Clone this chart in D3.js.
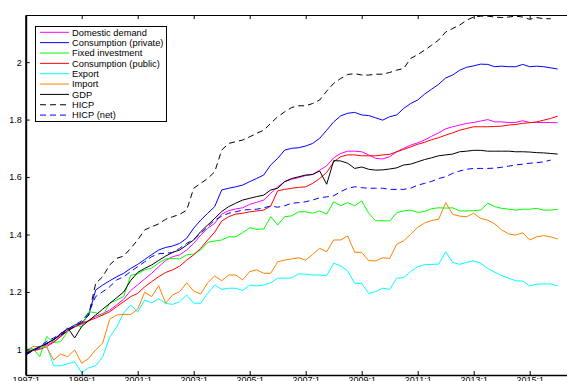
<!DOCTYPE html>
<html>
<head>
<meta charset="utf-8">
<script src="https://cdn.jsdelivr.net/npm/d3@7"></script>
<style>
  html, body { margin: 0; padding: 0; background: #fff; }
  svg { display: block; font-family: "Liberation Sans", Arial, Helvetica, sans-serif; }
</style>
</head>
<body>
<svg id="chart" width="567" height="381"></svg>
<script>
// Quarterly indices, 1997:1 = 1, first quarter of each series is 1997:1
const startYear = 1997;

const domesticDemand = [0.99,0.997,1.005,1.015,1.027,1.045,1.065,1.078,1.088,1.10,1.115,1.125,1.137,1.155,1.175,1.205,1.225,1.245,1.265,1.288,1.31,1.323,1.329,1.346,1.369,1.398,1.422,1.439,1.471,1.483,1.489,1.493,1.505,1.512,1.52,1.543,1.566,1.584,1.592,1.598,1.605,1.609,1.624,1.639,1.667,1.682,1.69,1.69,1.688,1.677,1.665,1.663,1.671,1.688,1.70,1.711,1.719,1.729,1.742,1.754,1.768,1.775,1.781,1.787,1.79,1.795,1.80,1.792,1.792,1.79,1.79,1.796,1.79,1.79,1.79,1.79,1.789];
const consumptionPrivate = [0.981,0.996,1.004,1.022,1.033,1.056,1.07,1.085,1.091,1.12,1.207,1.224,1.239,1.253,1.265,1.282,1.296,1.313,1.33,1.346,1.355,1.36,1.369,1.387,1.422,1.45,1.474,1.497,1.555,1.561,1.566,1.572,1.584,1.595,1.607,1.642,1.665,1.694,1.70,1.702,1.708,1.717,1.735,1.763,1.792,1.813,1.822,1.825,1.816,1.814,1.806,1.798,1.81,1.816,1.839,1.856,1.868,1.889,1.906,1.923,1.945,1.955,1.972,1.982,1.987,1.993,1.992,1.984,1.986,1.984,1.984,1.992,1.984,1.986,1.984,1.98,1.976];
const fixedInvestment = [1.0,1.004,0.975,1.045,1.024,1.027,1.062,1.085,1.079,1.131,1.128,1.117,1.161,1.172,1.184,1.258,1.263,1.277,1.283,1.301,1.315,1.317,1.315,1.329,1.332,1.346,1.373,1.377,1.381,1.392,1.392,1.406,1.424,1.418,1.419,1.462,1.433,1.462,1.465,1.479,1.479,1.474,1.482,1.471,1.514,1.50,1.511,1.50,1.517,1.474,1.448,1.448,1.447,1.476,1.482,1.485,1.477,1.48,1.49,1.493,1.492,1.493,1.482,1.482,1.483,1.485,1.509,1.497,1.491,1.488,1.485,1.488,1.488,1.491,1.485,1.485,1.488];
const consumptionPublic = [0.989,0.996,1.0,1.01,1.025,1.045,1.065,1.079,1.091,1.10,1.109,1.12,1.131,1.149,1.166,1.184,1.195,1.218,1.236,1.253,1.268,1.277,1.29,1.311,1.329,1.352,1.381,1.408,1.447,1.462,1.471,1.474,1.479,1.482,1.485,1.499,1.552,1.557,1.561,1.564,1.566,1.578,1.595,1.616,1.653,1.671,1.677,1.677,1.674,1.674,1.674,1.677,1.679,1.688,1.696,1.705,1.714,1.721,1.73,1.737,1.746,1.754,1.763,1.769,1.775,1.775,1.775,1.776,1.777,1.781,1.783,1.787,1.789,1.792,1.798,1.804,1.812];
const exportIdx = [0.995,1.0,1.005,1.012,0.943,0.943,0.95,0.957,0.918,0.936,0.943,0.974,1.043,1.078,1.127,1.155,1.13,1.172,1.162,1.176,1.16,1.157,1.166,1.19,1.161,1.161,1.195,1.224,1.209,1.213,1.213,1.205,1.224,1.221,1.224,1.232,1.248,1.248,1.249,1.263,1.262,1.259,1.259,1.257,1.30,1.291,1.273,1.23,1.23,1.195,1.201,1.213,1.209,1.248,1.25,1.271,1.288,1.295,1.296,1.297,1.34,1.303,1.296,1.303,1.308,1.30,1.282,1.269,1.257,1.248,1.239,1.238,1.221,1.227,1.228,1.228,1.221];
const importIdx = [0.992,1.01,1.01,1.008,0.963,0.984,0.975,0.998,0.952,0.969,0.998,1.022,1.105,1.12,1.122,1.122,1.14,1.199,1.184,1.222,1.161,1.19,1.201,1.232,1.203,1.193,1.232,1.256,1.239,1.259,1.259,1.242,1.271,1.277,1.265,1.265,1.305,1.311,1.315,1.319,1.311,1.331,1.352,1.34,1.381,1.381,1.395,1.338,1.338,1.309,1.308,1.319,1.317,1.366,1.378,1.401,1.425,1.44,1.449,1.453,1.511,1.47,1.464,1.462,1.474,1.456,1.45,1.437,1.416,1.402,1.398,1.406,1.381,1.392,1.396,1.392,1.384];
const gdp = [0.985,0.998,1.01,1.02,1.035,1.05,1.075,1.04,1.08,1.10,1.12,1.14,1.16,1.18,1.20,1.24,1.268,1.282,1.294,1.31,1.325,1.338,1.346,1.363,1.381,1.41,1.433,1.456,1.48,1.497,1.509,1.52,1.526,1.532,1.537,1.555,1.561,1.584,1.595,1.601,1.607,1.609,1.621,1.575,1.657,1.656,1.648,1.63,1.635,1.627,1.624,1.625,1.628,1.632,1.642,1.645,1.653,1.661,1.667,1.674,1.677,1.68,1.688,1.69,1.693,1.693,1.69,1.69,1.69,1.69,1.688,1.688,1.687,1.685,1.684,1.682,1.68];
const hicp = [0.985,0.995,1.008,1.02,1.035,1.05,1.065,1.08,1.095,1.12,1.23,1.253,1.294,1.317,1.325,1.352,1.381,1.416,1.427,1.437,1.453,1.462,1.47,1.485,1.561,1.578,1.595,1.618,1.694,1.717,1.723,1.729,1.74,1.752,1.763,1.787,1.81,1.827,1.842,1.848,1.848,1.856,1.868,1.899,1.926,1.943,1.957,1.96,1.955,1.955,1.958,1.958,1.964,1.972,1.978,2.013,2.026,2.042,2.059,2.077,2.105,2.117,2.129,2.146,2.157,2.16,2.16,2.157,2.155,2.157,2.16,2.157,2.149,2.155,2.151,2.151];
const hicpNet = [0.98,0.995,1.01,1.028,1.04,1.055,1.07,1.085,1.10,1.128,1.184,1.201,1.218,1.242,1.253,1.271,1.288,1.305,1.323,1.333,1.335,1.337,1.352,1.369,1.383,1.404,1.427,1.45,1.464,1.474,1.479,1.485,1.487,1.488,1.493,1.499,1.495,1.50,1.509,1.511,1.514,1.52,1.528,1.531,1.535,1.549,1.561,1.566,1.563,1.561,1.561,1.561,1.557,1.557,1.557,1.561,1.572,1.578,1.585,1.595,1.601,1.613,1.621,1.627,1.63,1.63,1.63,1.631,1.634,1.638,1.642,1.645,1.648,1.65,1.653,1.659];

const seriesNames = ["Domestic demand","Consumption (private)","Fixed investment","Consumption (public)","Export","Import","GDP","HICP","HICP (net)"];
const seriesColors = ["#ff00ff","#0000ff","#00ff00","#ff0000","#00ffff","#ff8000","#000000","#000000","#0000ff"];
const seriesDashed = [false,false,false,false,false,false,false,true,true];
const seriesValues = [domesticDemand,consumptionPrivate,fixedInvestment,consumptionPublic,exportIdx,importIdx,gdp,hicp,hicpNet];

const xTickLabels = ["1997:1","1999:1","2001:1","2003:1","2005:1","2007:1","2009:1","2011:1","2013:1","2015:1"];
const yTickValues = [1,1.2,1.4,1.6,1.8,2];
const yTickLabels = ["1","1.2","1.4","1.6","1.8","2"];

const svg = d3.select("#chart");
const plotLeft = 25.7, plotTop = 15, plotBottom = 375, plotRight = 578.7;

const x = d3.scaleLinear().domain([startYear, 2016.75]).range([plotLeft, plotRight]);
const y = d3.scaleLinear().domain([0.911, 2.164]).range([plotBottom, plotTop]);

svg.append("defs").append("clipPath").attr("id", "plotclip")
  .append("rect").attr("x", plotLeft).attr("y", plotTop - 1)
  .attr("width", plotRight - plotLeft).attr("height", plotBottom - plotTop + 1);

const line = d3.line()
  .x((d, i) => x(startYear + i / 4))
  .y(d => y(d));

const plot = svg.append("g").attr("clip-path", "url(#plotclip)");
seriesValues.forEach((vals, k) => {
  plot.append("path")
    .datum(vals)
    .attr("fill", "none")
    .attr("stroke", seriesColors[k])
    .attr("stroke-width", 1)
    .attr("stroke-dasharray", seriesDashed[k] ? "6,4" : null)
    .attr("d", line);
});

const tickYears = xTickLabels.map(s => +s.split(":")[0]);

// bottom axis with inward ticks
const gx = svg.append("g").attr("transform", `translate(0,${plotBottom})`)
  .call(d3.axisBottom(x).tickValues(tickYears).tickFormat((d, i) => xTickLabels[i])
    .tickSizeInner(-4).tickSizeOuter(0).tickPadding(2));
// top axis (ticks only)
const gt = svg.append("g").attr("transform", `translate(0,${plotTop})`)
  .call(d3.axisTop(x).tickValues(tickYears).tickFormat("")
    .tickSizeInner(-4).tickSizeOuter(0));
// left axis
const gy = svg.append("g").attr("transform", `translate(${plotLeft},0)`)
  .call(d3.axisLeft(y).tickValues(yTickValues).tickFormat((d, i) => yTickLabels[i])
    .tickSizeInner(-4).tickSizeOuter(0).tickPadding(4));

[gx, gt, gy].forEach(g => {
  g.selectAll("text").attr("font-size", 9).attr("fill", "#000")
    .attr("font-family", "'Liberation Sans', Arial, Helvetica, sans-serif");
  g.selectAll("line").attr("stroke", "#000");
  g.select(".domain").attr("stroke", "#000");
});
gx.select(".domain").attr("stroke-width", 1.6);
gy.select(".domain").attr("stroke-width", 2);
gt.select(".domain").attr("stroke-width", 1.2);

// legend
const lg = svg.append("g");
lg.append("rect").attr("x", 35.5).attr("y", 26.5).attr("width", 131).attr("height", 95)
  .attr("fill", "#fff").attr("stroke", "#000").attr("stroke-width", 1);
seriesNames.forEach((name, k) => {
  const yy = 32.3 + k * 10.35;
  lg.append("line").attr("x1", 40).attr("x2", 69).attr("y1", yy).attr("y2", yy)
    .attr("stroke", seriesColors[k]).attr("stroke-width", 1)
    .attr("stroke-dasharray", seriesDashed[k] ? "6,4" : null);
  lg.append("text").attr("x", 72).attr("y", yy).attr("dy", "0.35em")
    .attr("font-size", 9.3).attr("fill", "#000").text(name);
});
</script>
</body>
</html>
